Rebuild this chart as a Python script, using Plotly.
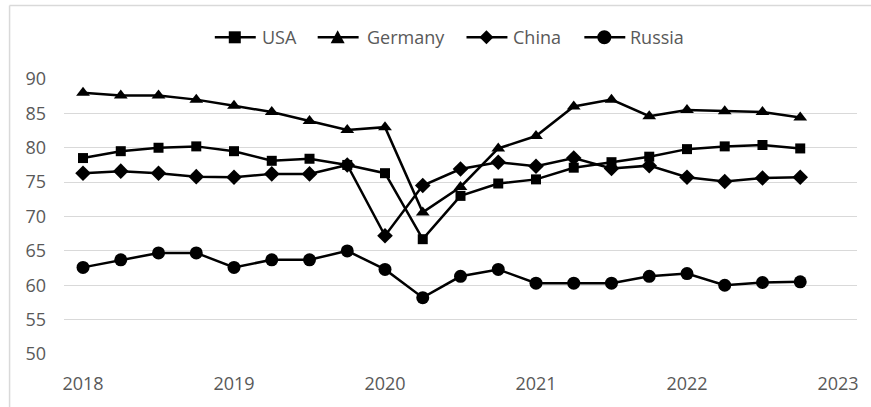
import plotly.graph_objects as go

# Quarterly observations, 2018 Q1 - 2022 Q4 (x in fractional years)
quarters = [2018 + i * 0.25 for i in range(20)]

usa = [78.5, 79.5, 80.0, 80.2, 79.5, 78.1, 78.4, 77.5, 76.3, 66.7,
       73.0, 74.8, 75.4, 77.1, 77.9, 78.7, 79.8, 80.2, 80.4, 79.9]
germany = [88.0, 87.6, 87.6, 87.0, 86.1, 85.2, 83.9, 82.6, 83.0, 70.6,
           74.3, 79.9, 81.7, 86.0, 87.0, 84.6, 85.5, 85.3, 85.2, 84.4]
china = [76.3, 76.6, 76.3, 75.8, 75.7, 76.2, 76.2, 77.5, 67.2, 74.5,
         76.9, 77.9, 77.3, 78.5, 77.0, 77.4, 75.7, 75.1, 75.6, 75.7]
russia = [62.6, 63.7, 64.7, 64.7, 62.6, 63.7, 63.7, 65.0, 62.3, 58.2,
          61.3, 62.3, 60.3, 60.3, 60.3, 61.3, 61.7, 60.0, 60.4, 60.5]

year_ticks = [2018, 2019, 2020, 2021, 2022, 2023]
value_ticks = [50, 55, 60, 65, 70, 75, 80, 85, 90]

series = [
    ("USA", usa, "square", 10),
    ("Germany", germany, "triangle-up", 12),
    ("China", china, "diamond", 12),
    ("Russia", russia, "circle", 13),
]

FONT = "Open Sans, sans-serif"
TEXT = "#595959"

W, H = 871, 407
ML, MR, MT, MB = 64, 13, 79, 51
PW, PH = W - ML - MR, H - MT - MB


def px_x(x):
    """Pixel column -> paper fraction."""
    return (x - ML) / PW


def px_y(y):
    """Pixel row (from top) -> paper fraction."""
    return 1 + (MT - y) / PH


fig = go.Figure()
for name, vals, sym, size in series:
    fig.add_trace(go.Scatter(
        x=quarters, y=vals, name=name, mode="lines+markers",
        line=dict(color="black", width=2.5),
        marker=dict(symbol=sym, size=size, color="black",
                    line=dict(color="black", width=0)),
        showlegend=False,
    ))

# Hand-placed legend row: sample line, marker glyph, label
legend_y = px_y(37)
legend_items = [
    # (label, line start px, text start px, glyph path in px)
    ("USA", 215, 260, "M-6,-6 L6,-6 L6,6 L-6,6 Z"),
    ("Germany", 318, 365, "M0,7 L7,-6 L-7,-6 Z"),
    ("China", 467, 512, "M0,7 L7,0 L0,-7 L-7,0 Z"),
    ("Russia", 585, 629, None),
]

shapes = [
    # chart frame edges (top and left)
    dict(type="line", xref="paper", yref="paper",
         x0=px_x(9.5), x1=px_x(900), y0=px_y(5), y1=px_y(5),
         line=dict(color="#d9d9d9", width=1.5)),
    dict(type="line", xref="paper", yref="paper",
         x0=px_x(9.5), x1=px_x(9.5), y0=px_y(420), y1=px_y(5),
         line=dict(color="#d9d9d9", width=1.5)),
]
annotations = []
for label, x0, tx, glyph in legend_items:
    cx = x0 + 20
    shapes.append(dict(type="line", xref="paper", yref="paper",
                       x0=px_x(x0), x1=px_x(x0 + 41),
                       y0=legend_y, y1=legend_y,
                       line=dict(color="black", width=2.5)))
    if glyph is None:
        shapes.append(dict(type="circle", xref="paper", yref="paper",
                           xsizemode="pixel", ysizemode="pixel",
                           xanchor=px_x(cx), yanchor=legend_y,
                           x0=-7, x1=7, y0=-7, y1=7,
                           fillcolor="black", line=dict(width=0)))
    else:
        shapes.append(dict(type="path", xref="paper", yref="paper",
                           xsizemode="pixel", ysizemode="pixel",
                           xanchor=px_x(cx), yanchor=legend_y,
                           path=glyph, fillcolor="black",
                           line=dict(width=0)))
    annotations.append(dict(text=label, xref="paper", yref="paper",
                            x=px_x(tx), y=legend_y, xanchor="left",
                            yanchor="middle", showarrow=False,
                            font=dict(family=FONT, size=18, color=TEXT)))

fig.update_layout(
    width=W, height=H,
    margin=dict(l=ML, r=MR, t=MT, b=MB),
    paper_bgcolor="white", plot_bgcolor="white",
    font=dict(family=FONT, size=18, color=TEXT),
    showlegend=False,
    xaxis=dict(range=[2017.874, 2023.126], tickmode="array",
               tickvals=year_ticks, ticktext=[str(t) for t in year_ticks],
               showgrid=False, zeroline=False, showline=False,
               ticks="", ticklabelstandoff=17),
    yaxis=dict(range=[50, 90], tickmode="array", tickvals=value_ticks,
               showgrid=True, gridcolor="#d9d9d9", gridwidth=1,
               zeroline=False, showline=False, ticks="",
               ticklabelstandoff=17),
    shapes=shapes,
    annotations=annotations,
)

fig.write_html("out.html")
